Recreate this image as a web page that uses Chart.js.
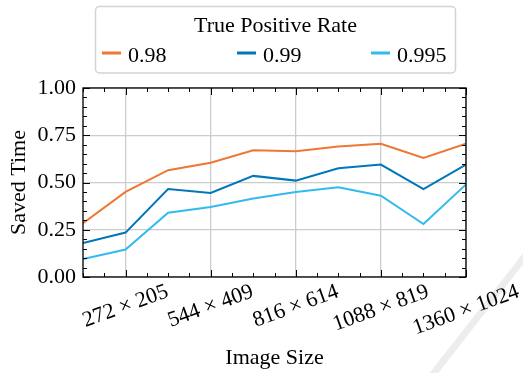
<!DOCTYPE html>
<html>
<head>
<meta charset="utf-8">
<script src="https://cdn.jsdelivr.net/npm/chart.js@4.4.1/dist/chart.umd.min.js"></script>
<style>
    html, body { margin: 0; padding: 0; background: #fff; }
</style>
</head>
<body>
<canvas id="chart" width="523" height="373"></canvas>
<script>
// image sizes (width) along x, every other one gets a label
const imageWidths = [136, 272, 408, 544, 680, 816, 952, 1088, 1224, 1360];
const xTickValues = [272, 544, 816, 1088, 1360];
const xTickLabels = ["272 × 205", "544 × 409", "816 × 614", "1088 × 819", "1360 × 1024"];
const xMinorStep = 68;

const yTickValues = [0, 0.25, 0.5, 0.75, 1];
const yMinorStep = 0.05;

// saved time per true positive rate
const rateLabels = ["0.98", "0.99", "0.995"];
const savedTime098 = [0.285, 0.45, 0.565, 0.605, 0.67, 0.665, 0.69, 0.705, 0.63, 0.705];
const savedTime099 = [0.18, 0.235, 0.465, 0.445, 0.535, 0.51, 0.575, 0.595, 0.465, 0.595];
const savedTime0995 = [0.095, 0.145, 0.34, 0.37, 0.415, 0.45, 0.475, 0.43, 0.28, 0.49];

const colors = ["#EE7733", "#0077BB", "#33BBEE"];
const FONT = "'Liberation Serif', 'Times New Roman', serif";

function toPoints(values) {
    return values.map((v, i) => ({ x: imageWidths[i], y: v }));
}

// white page + the faint grey stroke in the lower right corner
const background = {
    id: "background",
    beforeDraw(chart) {
        const ctx = chart.ctx;
        ctx.save();
        ctx.fillStyle = "#fff";
        ctx.fillRect(0, 0, chart.width, chart.height);
        ctx.strokeStyle = "rgba(0,0,0,0.07)";
        ctx.lineWidth = 7;
        ctx.beginPath();
        ctx.moveTo(430, 378);
        ctx.lineTo(526, 255);
        ctx.stroke();
        ctx.restore();
    }
};

// box frame, inward ticks and rotated x labels
const frame = {
    id: "frame",
    afterDraw(chart) {
        const ctx = chart.ctx;
        const { left, right, top, bottom } = chart.chartArea;
        const xs = chart.scales.x;
        const ys = chart.scales.y;

        ctx.save();
        ctx.strokeStyle = "#000";
        ctx.lineWidth = 1;
        ctx.beginPath();

        for (let v = xs.min; v <= xs.max + 1e-6; v += xMinorStep) {
            const px = Math.round(xs.getPixelForValue(v)) + 0.5;
            const len = xTickValues.includes(v) ? 7 : 4;
            ctx.moveTo(px, bottom); ctx.lineTo(px, bottom - len);
            ctx.moveTo(px, top); ctx.lineTo(px, top + len);
        }
        for (let v = ys.min; v <= ys.max + 1e-6; v += yMinorStep) {
            const py = Math.round(ys.getPixelForValue(v)) + 0.5;
            const major = yTickValues.some(t => Math.abs(t - v) < 1e-6);
            const len = major ? 7 : 4;
            ctx.moveTo(left, py); ctx.lineTo(left + len, py);
            ctx.moveTo(right, py); ctx.lineTo(right - len, py);
        }
        ctx.stroke();

        ctx.lineWidth = 1.3;
        ctx.strokeRect(left, top, right - left, bottom - top);

        // x labels, rotated 20 degrees and centred under their tick
        const angle = 20 * Math.PI / 180;
        ctx.font = "22px " + FONT;
        ctx.fillStyle = "#000";
        ctx.textAlign = "center";
        ctx.textBaseline = "middle";
        xTickValues.forEach((v, i) => {
            const label = xTickLabels[i];
            const w = ctx.measureText(label).width;
            const h = w * Math.sin(angle) + 15 * Math.cos(angle);
            const px = xs.getPixelForValue(v);
            const py = bottom + 7 + h / 2;
            ctx.save();
            ctx.translate(px, py);
            ctx.rotate(-angle);
            ctx.fillText(label, 0, 0);
            ctx.restore();
        });
        ctx.restore();
    }
};

// legend box with title above the three entries
const rateLegend = {
    id: "rateLegend",
    afterDraw(chart) {
        const ctx = chart.ctx;
        const box = { x: 95.5, y: 6.5, w: 360, h: 66.5 };
        ctx.save();
        ctx.fillStyle = "rgba(255,255,255,0.8)";
        ctx.strokeStyle = "#d3d3d3";
        ctx.lineWidth = 1.5;
        ctx.beginPath();
        ctx.roundRect(box.x, box.y, box.w, box.h, 4);
        ctx.fill();
        ctx.stroke();

        ctx.fillStyle = "#000";
        ctx.font = "22px " + FONT;
        ctx.textAlign = "center";
        ctx.textBaseline = "alphabetic";
        ctx.fillText("True Positive Rate", box.x + box.w / 2, 32);

        const entryX = [102, 237, 371];
        ctx.textAlign = "left";
        chart.data.datasets.forEach((ds, i) => {
            ctx.fillStyle = ds.borderColor;
            ctx.fillRect(entryX[i], 51.5, 19, 3);
            ctx.fillStyle = "#000";
            ctx.fillText(ds.label, entryX[i] + 26, 61.5);
        });
        ctx.restore();
    }
};

const datasets = [savedTime098, savedTime099, savedTime0995].map((values, i) => ({
    label: rateLabels[i],
    data: toPoints(values),
    borderColor: colors[i],
    backgroundColor: colors[i],
    borderWidth: 2,
    pointRadius: 0,
    tension: 0,
    fill: false
}));

new Chart(document.getElementById("chart"), {
    type: "line",
    data: { datasets },
    plugins: [background, frame, rateLegend],
    options: {
        responsive: false,
        animation: false,
        devicePixelRatio: 1,
        layout: {
            padding: { left: 0, right: 57, top: 88, bottom: 0 }
        },
        plugins: {
            legend: { display: false },
            tooltip: { enabled: false }
        },
        scales: {
            x: {
                type: "linear",
                min: 136,
                max: 1360,
                afterBuildTicks: scale => {
                    scale.ticks = xTickValues.map(v => ({ value: v }));
                },
                afterFit: scale => { scale.height = 96; },
                ticks: { display: false },
                grid: { color: "#cccccc", lineWidth: 1.3, drawTicks: false },
                border: { display: false },
                title: {
                    display: true,
                    text: "Image Size",
                    color: "#000",
                    font: { family: FONT, size: 22 },
                    padding: { top: 0, bottom: 2 }
                }
            },
            y: {
                min: 0,
                max: 1,
                afterBuildTicks: scale => {
                    scale.ticks = yTickValues.map(v => ({ value: v }));
                },
                afterFit: scale => { scale.width = 83; },
                ticks: {
                    color: "#000",
                    padding: 7,
                    font: { family: FONT, size: 22 },
                    callback: v => v.toFixed(2)
                },
                grid: { color: "#cccccc", lineWidth: 1.3, drawTicks: false },
                border: { display: false },
                title: {
                    display: true,
                    text: "Saved Time",
                    color: "#000",
                    font: { family: FONT, size: 22 },
                    padding: { top: 6, bottom: 0 }
                }
            }
        }
    }
});
</script>
</body>
</html>
